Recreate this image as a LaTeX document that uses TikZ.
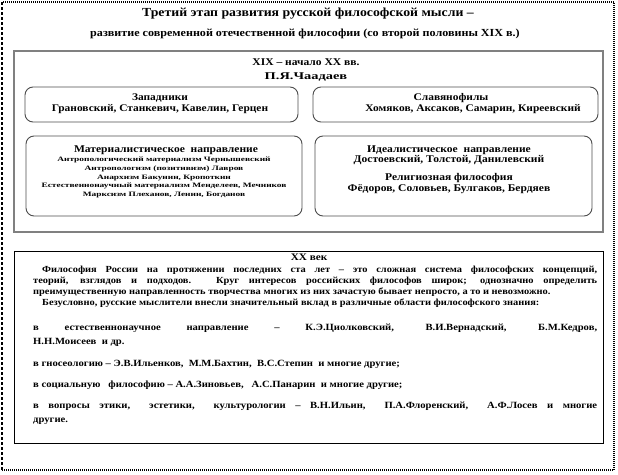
\documentclass[tikz,border=0pt]{standalone}
\usepackage{fontspec}
\setmainfont{Liberation Serif}[FakeStretch=1.12]
\newfontfamily\widefont{Liberation Serif}[FakeStretch=1.4]
\tikzset{
  grp/.style={draw=gray, line width=1.6pt, fill=none},
  rbox/.style={draw=black!70, line width=0.9pt, rounded corners=8pt},
  plain/.style={draw=black, line width=1pt},
  lbl/.style={inner sep=0pt, align=center, font=\bfseries\fontsize{10.2}{11}\selectfont},
  head/.style={inner sep=0pt, align=center, font=\bfseries\fontsize{10.3}{10.5}\selectfont},
  small/.style={inner sep=0pt, align=center, font=\widefont\bfseries\fontsize{6.7}{8.7}\selectfont},
  body/.style={inner sep=0pt, anchor=north west, text width=564pt, align=justify, font=\bfseries\fontsize{9.3}{11}\selectfont},
  bodyb/.style={body, font=\bfseries\fontsize{9.5}{14}\selectfont}
}
\begin{document}
\begin{tikzpicture}[x=1pt,y=-1pt]
\useasboundingbox (0,0) rectangle (618,474);
% outer frame
\coordinate (tl) at (2,2);
\coordinate (tr) at (614,2);
\coordinate (br) at (614,470);
\coordinate (bl) at (2,470);
\draw[line width=1.3pt, dash pattern=on 1pt off 1pt] (bl) -- (br) -- (tr) -- (tl);
\draw[line width=1.3pt, dash pattern=on 3pt off 2pt] (tl) -- (bl);
% title
\node[inner sep=0pt, font=\bfseries\fontsize{12.3}{13}\selectfont] (t1) at (308,14) {Третий этап развития русской философской мысли –};
\node[inner sep=0pt, font=\bfseries\fontsize{10.8}{11}\selectfont] (t2) at (305,34) {развитие современной отечественной философии (со второй половины XIX в.)};
% upper group
\draw[grp] (14,51) rectangle (603,232);
\node[inner sep=0pt, font=\bfseries\fontsize{10.3}{11}\selectfont] (c19) at (306,62) {XIX – начало XX вв.};
\node[inner sep=0pt, font=\widefont\bfseries\fontsize{10.3}{11}\selectfont] (chaad) at (306,77) {П.Я.Чаадаев};
\draw[rbox] (25,87) rectangle (298,122);
\node[lbl] (west) at (160,103.5) {Западники\\Грановский, Станкевич, Кавелин, Герцен};
\draw[rbox] (313,87) rectangle (598,122);
\node[lbl] (slav1) at (451,98) {Славянофилы};
\node[lbl] (slav2) at (473,109) {Хомяков, Аксаков, Самарин, Киреевский};
\draw[rbox] (26,136) rectangle (302,216);
\node[head] (mathead) at (166,150) {Материалистическое\ \ направление};
\node[small] (mat) at (164,177.5) {Антропологический материализм Чернышевский\\Антропологизм (позитивизм) Лавров\\Анархизм Бакунин, Кропоткин\\Естественнонаучный материализм Менделеев, Мечников\\Марксизм Плеханов, Ленин, Богданов};
\draw[rbox] (315,136) rectangle (592,216);
\node[head] (ideal) at (449,155) {Идеалистическое\ \ направление\\Достоевский, Толстой, Данилевский};
\node[head] (relig) at (449,183.5) {Религиозная философия\\Фёдоров, Соловьев, Булгаков, Бердяев};
% lower box
\draw[plain] (14,251) rectangle (603,443);
\node[inner sep=0pt, font=\bfseries\fontsize{10}{11}\selectfont] (c20) at (309,257) {XX век};
\node[body] (p1) at (33,266) {\hspace*{9pt}Философия России на протяжении последних ста лет – это сложная система философских концепций,\linebreak теорий, взглядов и подходов. Круг интересов российских философов широк; однозначно определить\linebreak преимущественную направленность творчества многих из них зачастую бывает непросто, а то и невозможно.\par
\hspace*{9pt}Безусловно, русские мыслители внесли значительный вклад в различные области философского знания:};
\node[bodyb] (p2) at (33,324) {в естественнонаучное направление – К.Э.Циолковский, В.И.Вернадский, Б.М.Кедров,\linebreak Н.Н.Моисеев\ \ и др.};
\node[bodyb] (p3) at (33,360) {в гносеологию – Э.В.Ильенков,\ \ М.М.Бахтин,\ \ В.С.Степин\ \ и многие другие;};
\node[bodyb] (p4) at (33,381) {в социальную\ \ \ философию – А.А.Зиновьев,\ \ \ А.С.Панарин\ \ и многие другие;};
\node[bodyb] (p5) at (33,402) {в вопросы этики,\ \ эстетики,\ \ культурологии – В.Н.Ильин,\ \ П.А.Флоренский,\ \ А.Ф.Лосев и многие\linebreak другие.};
\end{tikzpicture}
\end{document}
